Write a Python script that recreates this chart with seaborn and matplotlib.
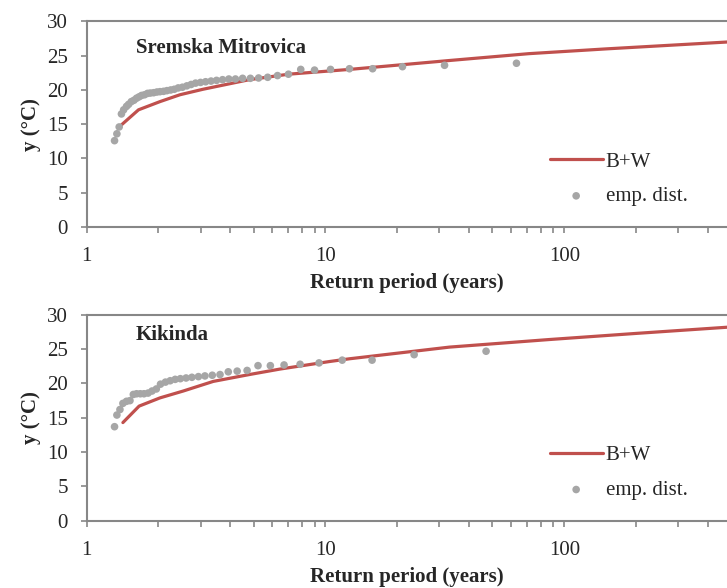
import matplotlib
matplotlib.use("Agg")
import numpy as np
import pandas as pd
import matplotlib.pyplot as plt
import seaborn as sns
from matplotlib.ticker import FixedLocator, FixedFormatter, NullFormatter

# Sremska Mitrovica: empirical distribution (return period, y)
sm_T = [63.0, 31.5, 21.0, 15.75, 12.6, 10.5, 9.0, 7.88, 7.0, 6.3, 5.73, 5.25,
        4.85, 4.5, 4.2, 3.94, 3.71, 3.5, 3.32, 3.15, 3.0, 2.86, 2.74, 2.63,
        2.52, 2.42, 2.33, 2.25, 2.17, 2.1, 2.03, 1.97, 1.91, 1.85, 1.8, 1.75,
        1.7, 1.66, 1.62, 1.58, 1.54, 1.5, 1.47, 1.43, 1.4, 1.37, 1.34, 1.31]
sm_emp = [23.9, 23.6, 23.4, 23.1, 23.1, 23.0, 22.9, 23.0, 22.3, 22.1, 21.85, 21.75,
          21.7, 21.7, 21.6, 21.6, 21.5, 21.4, 21.3, 21.2, 21.1, 21.0, 20.8, 20.6,
          20.4, 20.3, 20.1, 20.0, 19.9, 19.8, 19.75, 19.7, 19.6, 19.55, 19.5, 19.3,
          19.2, 19.0, 18.8, 18.5, 18.3, 17.9, 17.6, 17.1, 16.5, 14.6, 13.6, 12.6]
# Sremska Mitrovica: B+W fitted curve
sm_fit_T = [1.40, 1.65, 2.03, 2.46, 3.07, 4.8, 7.0, 12.6, 33.0, 71.0, 150.0, 480.0]
sm_fit = [14.9, 17.1, 18.3, 19.3, 20.1, 21.5, 22.3, 23.0, 24.3, 25.3, 26.0, 27.0]

# Kikinda: empirical distribution
ki_T = [47.0, 23.5, 15.67, 11.75, 9.4, 7.83, 6.71, 5.88, 5.22, 4.7, 4.27, 3.92,
        3.62, 3.36, 3.13, 2.94, 2.76, 2.61, 2.47, 2.35, 2.24, 2.14, 2.04, 1.96,
        1.88, 1.81, 1.74, 1.68, 1.62, 1.57, 1.52, 1.47, 1.42, 1.38, 1.34, 1.31]
ki_emp = [24.7, 24.2, 23.4, 23.4, 23.0, 22.8, 22.7, 22.6, 22.6, 21.9, 21.8, 21.7,
          21.3, 21.2, 21.1, 21.0, 20.9, 20.8, 20.7, 20.6, 20.4, 20.2, 19.9, 19.2,
          18.9, 18.6, 18.5, 18.5, 18.5, 18.4, 17.5, 17.4, 17.1, 16.2, 15.4, 13.7]
# Kikinda: B+W fitted curve
ki_fit_T = [1.42, 1.66, 2.03, 2.54, 3.39, 4.8, 6.45, 10.4, 12.6, 33.0, 86.0, 200.0, 480.0]
ki_fit = [14.3, 16.7, 17.9, 18.9, 20.3, 21.3, 22.1, 23.2, 23.6, 25.3, 26.4, 27.3, 28.2]

stations = ["Sremska Mitrovica", "Kikinda"]

sns.set_style("white")
plt.rcParams["font.family"] = ["Liberation Serif", "DejaVu Serif"]

grey = "#878787"
fs = 15
fig = plt.figure(figsize=(7.27, 5.88), dpi=100)
ax_top = fig.add_axes([0.119, 0.614, 0.881, 0.3495])
ax_bot = fig.add_axes([0.119, 0.1145, 0.881, 0.35])

panels = [
    (ax_top, stations[0], sm_T, sm_emp, sm_fit_T, sm_fit, 0.87),
    (ax_bot, stations[1], ki_T, ki_emp, ki_fit_T, ki_fit, 0.90),
]

for ax, name, T, emp, fT, fit, ty in panels:
    fit_df = pd.DataFrame({"T": fT, "y": fit})
    emp_df = pd.DataFrame({"T": T, "y": emp})
    sns.lineplot(data=fit_df, x="T", y="y", ax=ax, color="#C0504D",
                 linewidth=2.3, label="B+W", zorder=2)
    sns.scatterplot(data=emp_df, x="T", y="y", ax=ax, color="#A6A6A6",
                    s=30, edgecolor="none", label="emp. dist.", zorder=3)
    ax.set_xscale("log")
    ax.set_xlim(1, 479)
    ax.set_ylim(0, 30)
    ax.set_yticks(range(0, 31, 5))
    ax.xaxis.set_major_locator(FixedLocator([1, 10, 100]))
    ax.xaxis.set_major_formatter(FixedFormatter(["1", "10", "100"]))
    minors = [m * d for d in (1, 10, 100) for m in range(2, 10) if m * d < 479]
    ax.xaxis.set_minor_locator(FixedLocator(minors))
    ax.xaxis.set_minor_formatter(NullFormatter())
    ax.tick_params(axis="both", which="both", direction="out", color=grey,
                   width=1.2, length=4.5, labelsize=fs, pad=9)
    ax.tick_params(axis="x", which="both", bottom=True, pad=10)
    ax.tick_params(axis="y", left=True)
    for side in ["left", "bottom", "top"]:
        ax.spines[side].set_color(grey)
        ax.spines[side].set_linewidth(1.5)
    ax.spines["right"].set_visible(False)
    ax.set_xlabel("Return period (years)", fontsize=fs, fontweight="bold", labelpad=5)
    ax.set_ylabel("y (°C)", fontsize=fs, fontweight="bold", labelpad=4)
    ax.text(0.077, ty, name, transform=ax.transAxes, fontsize=fs,
            fontweight="bold", va="center", ha="left")
    ax.legend(loc="lower left", bbox_to_anchor=(0.71, 0.06), frameon=False,
              fontsize=fs, handlelength=2.55, handletextpad=0.15,
              labelspacing=0.73, scatterpoints=1, borderaxespad=0)

fig.savefig("out.png", dpi=100)
